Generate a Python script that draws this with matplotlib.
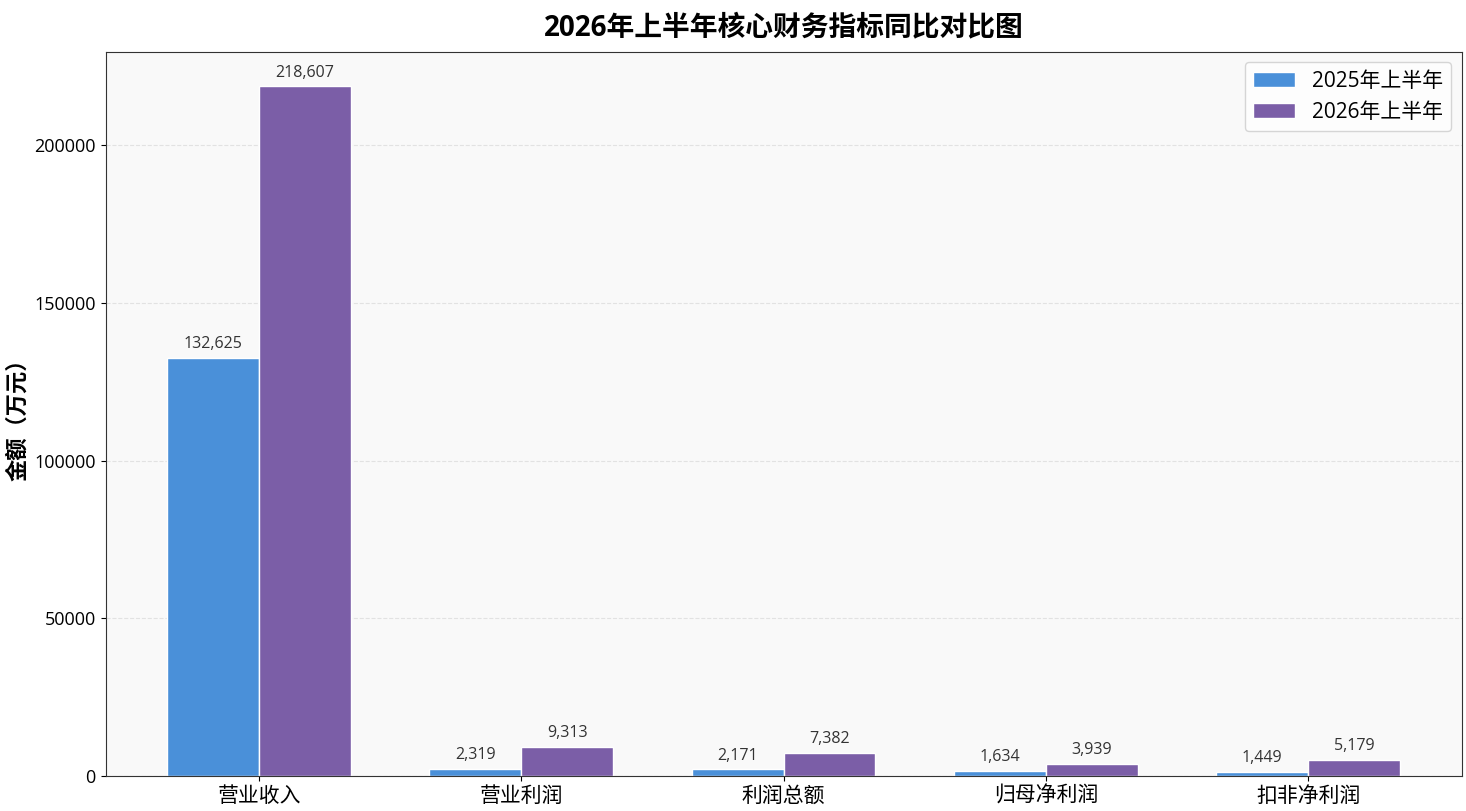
import numpy as np
import matplotlib.pyplot as plt

plt.rcParams['font.family'] = ['Open Sans', 'Noto Sans CJK SC', 'DejaVu Sans']
plt.rcParams['axes.unicode_minus'] = False

categories = ['营业收入', '营业利润', '利润总额', '归母净利润', '扣非净利润']
h1_2025 = [132625, 2319, 2171, 1634, 1449]
h1_2026 = [218607, 9313, 7382, 3939, 5179]

x = np.arange(len(categories))
width = 0.35

fig, ax = plt.subplots(figsize=(14.66, 8.11), dpi=100)
ax.set_facecolor('#f9f9f9')
for s in ax.spines.values():
    s.set_color('#333333')

b1 = ax.bar(x - width / 2, h1_2025, width, label='2025年上半年', color='#4A90D9', edgecolor='white', linewidth=1)
b2 = ax.bar(x + width / 2, h1_2026, width, label='2026年上半年', color='#7B5EA7', edgecolor='white', linewidth=1)

for bars in (b1, b2):
    for bar in bars:
        h = bar.get_height()
        ax.annotate(f'{h:,.0f}', xy=(bar.get_x() + bar.get_width() / 2, h),
                    xytext=(0, 4), textcoords='offset points',
                    ha='center', va='bottom', fontsize=11.5, color='#333333')

ax.set_xticks(x)
ax.set_xticklabels(categories, fontsize=15)
ax.tick_params(axis='y', labelsize=13)
ax.set_ylabel('金额（万元）', fontsize=16, fontweight='bold')
ax.set_title('2026年上半年核心财务指标同比对比图', fontsize=20, fontweight='bold', pad=12)
ax.set_ylim(0, max(h1_2026) * 1.05)
ax.yaxis.grid(True, linestyle='--', alpha=0.3)
ax.set_axisbelow(True)
ax.legend(fontsize=15, loc='upper right')

plt.subplots_adjust(left=0.072, right=0.997, top=0.936, bottom=0.043)
plt.savefig('out.png', dpi=100)
